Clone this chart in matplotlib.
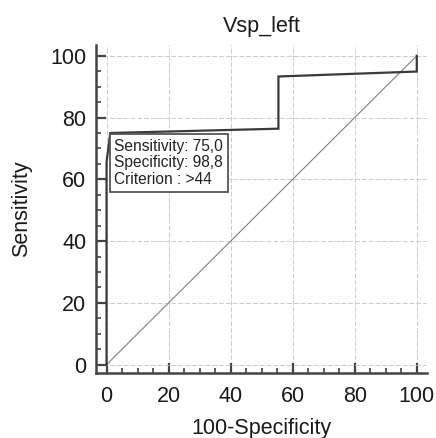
import matplotlib
matplotlib.use('Agg')
import matplotlib.pyplot as plt
from matplotlib.ticker import MultipleLocator

plt.rcParams['font.family'] = ['Liberation Sans', 'DejaVu Sans']

# ROC curve (100-Specificity vs Sensitivity)
fpr = [0, 0, 1.2, 55.4, 55.4, 100, 100]
tpr = [0, 65.6, 75.0, 76.4, 93.3, 94.9, 100]

# reference line
diag = [0, 100]

# criterion point
crit_sens = 75.0
crit_spec = 98.8
crit_label = '>44'

title = 'Vsp_left'
xlabel = '100-Specificity'
ylabel = 'Sensitivity'

fig = plt.figure(figsize=(4.36, 4.38), dpi=100)
ax = fig.add_axes([0.2202, 0.1484, 0.7592, 0.7489])

spine_col = '#444444'
ax.plot(diag, diag, color='#808080', linewidth=0.8, zorder=2)
ax.plot(fpr, tpr, color='#3a3a3a', linewidth=1.6, zorder=3, solid_joinstyle='miter')

txt = 'Sensitivity: %s\nSpecificity: %s\nCriterion : %s' % (
    ('%.1f' % crit_sens).replace('.', ','),
    ('%.1f' % crit_spec).replace('.', ','),
    crit_label)
ax.annotate(txt, xy=(100 - crit_spec, crit_sens), xytext=(4, -6),
            textcoords='offset pixels', ha='left', va='top',
            fontsize=11.2, color='#222222', linespacing=1.12, zorder=5,
            bbox=dict(boxstyle='square,pad=0.3', facecolor='white',
                      edgecolor='#555555', linewidth=1.3))

ax.set_xlim(-3.4, 103.3)
ax.set_ylim(-2.7, 103.5)

ax.xaxis.set_major_locator(MultipleLocator(20))
ax.yaxis.set_major_locator(MultipleLocator(20))
ax.xaxis.set_minor_locator(MultipleLocator(5))
ax.yaxis.set_minor_locator(MultipleLocator(5))

ax.grid(True, which='major', color='#cccccc', linestyle=(0, (5, 2)), linewidth=0.7, zorder=1)
ax.set_axisbelow(True)

for s in ['top', 'right']:
    ax.spines[s].set_visible(False)
for s in ['left', 'bottom']:
    ax.spines[s].set_color(spine_col)
    ax.spines[s].set_linewidth(1.8)

ax.tick_params(which='major', direction='in', length=7.5, width=1.6,
               color=spine_col, labelsize=15.5, labelcolor='#1a1a1a')
ax.tick_params(which='minor', direction='in', length=3.8, width=1.2, color=spine_col)
ax.tick_params(axis='x', which='major', pad=9)
ax.tick_params(axis='y', which='major', pad=7)

ax.set_title(title, fontsize=15.5, color='#1a1a1a', pad=9)
ax.set_xlabel(xlabel, fontsize=15.5, color='#1a1a1a', labelpad=8)
ax.set_ylabel(ylabel, fontsize=15.5, color='#1a1a1a', labelpad=13)

fig.savefig('out.png', dpi=100)
